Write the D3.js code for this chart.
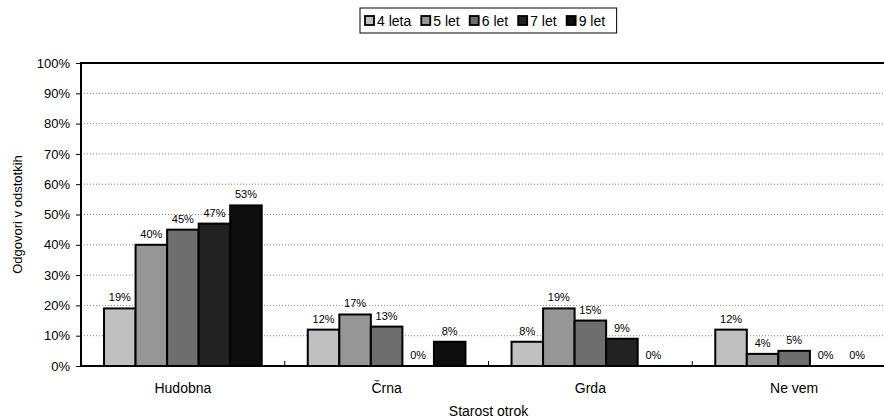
<!DOCTYPE html>
<html><head><meta charset="utf-8">
<script src="https://cdn.jsdelivr.net/npm/d3@7"></script>
<style>body{margin:0;background:#fff}text{font-family:Arial,"Liberation Sans",sans-serif}</style>
</head><body><svg id="c" width="884" height="420"></svg>
<script>
const categories = ["Hudobna", "Črna", "Grda", "Ne vem"];
const seriesNames = ["4 leta", "5 let", "6 let", "7 let", "9 let"];
const s4 = [19, 12, 8, 12];
const s5 = [40, 17, 19, 4];
const s6 = [45, 13, 15, 5];
const s7 = [47, 0, 9, 0];
const s9 = [53, 8, 0, 0];
const yTicks = [0,10,20,30,40,50,60,70,80,90,100];
const colors = ["#c0c0c0", "#969696", "#6e6e6e", "#222222", "#0e0e0e"];
const allSeries = [s4, s5, s6, s7, s9];

const svg = d3.select("#c");
const L = 81, R = 896, T = 63, B = 366;
const FF = "Arial, 'Liberation Sans', sans-serif";
const x0 = d3.scaleBand().domain(categories).range([L, R]);
const bw = x0.bandwidth();
const x1 = d3.scaleBand().domain(seriesNames).range([bw*0.113, bw*0.887]);
const y = d3.scaleLinear().domain([0, 100]).range([B, T]);

// gridlines
svg.append("g").selectAll("line").data(yTicks.filter(d=>d>0 && d<100)).join("line")
  .attr("x1", L).attr("x2", R).attr("y1", d=>y(d)).attr("y2", d=>y(d))
  .attr("stroke", "#888").attr("stroke-width", 1).attr("stroke-dasharray", "1,2");

// y axis
const ya = svg.append("g").attr("transform", `translate(${L},0)`)
  .call(d3.axisLeft(y).tickValues(yTicks).tickFormat(d=>d+"%").tickSize(5).tickPadding(6));
ya.select(".domain").remove();
ya.selectAll("line").attr("stroke", "#000");
ya.selectAll("text").attr("font-size", 13).attr("fill", "#000").style("font-family", FF);

// bars
const groups = svg.append("g").selectAll("g").data(categories).join("g")
  .attr("transform", d=>`translate(${x0(d)},0)`);
groups.each(function(cat, ci){
  const g = d3.select(this);
  const vals = allSeries.map((s, si)=>({name: seriesNames[si], v: s[ci], c: colors[si]}));
  g.selectAll("rect").data(vals.filter(d=>d.v>0)).join("rect")
    .attr("x", d=>x1(d.name)).attr("width", x1.bandwidth())
    .attr("y", d=>y(d.v)).attr("height", d=>y(0)-y(d.v))
    .attr("fill", d=>d.c).attr("stroke", "#000").attr("stroke-width", 2);
  g.selectAll("text").data(vals).join("text")
    .attr("x", d=>x1(d.name)+x1.bandwidth()/2).attr("y", d=>y(d.v)-7)
    .attr("text-anchor", "middle").attr("font-size", 11).attr("fill", "#000")
    .text(d=>d.v+"%");
});

// x axis
const xa = svg.append("g").attr("transform", `translate(0,${B})`)
  .call(d3.axisBottom(x0).tickSize(0).tickPadding(17));
xa.select(".domain").remove();
xa.selectAll("text").attr("font-size", 14).attr("fill", "#000").style("font-family", FF);
svg.append("g").selectAll("line").data(categories.slice(1)).join("line")
  .attr("x1", d=>x0(d)).attr("x2", d=>x0(d)).attr("y1", B).attr("y2", B-5)
  .attr("stroke", "#000").attr("stroke-width", 1);

// frame lines
svg.append("line").attr("x1", L).attr("x2", R).attr("y1", B).attr("y2", B).attr("stroke", "#000").attr("stroke-width", 2);
svg.append("line").attr("x1", L).attr("x2", R).attr("y1", T).attr("y2", T).attr("stroke", "#000").attr("stroke-width", 2);
svg.append("line").attr("x1", L).attr("x2", L).attr("y1", T-1).attr("y2", B+1).attr("stroke", "#000").attr("stroke-width", 2);

// titles
svg.append("text").attr("x", (L+R)/2).attr("y", 416).attr("text-anchor", "middle").attr("font-size", 14).text("Starost otrok");
svg.append("text").attr("transform", `translate(22,${(T+B)/2}) rotate(-90)`).attr("text-anchor", "middle").attr("font-size", 13).text("Odgovori v odstotkih");

// legend
const lg = svg.append("g");
let lx = 365;
const ly = 21;
seriesNames.forEach((n, i)=>{
  lg.append("rect").attr("x", lx).attr("y", ly-5).attr("width", 9).attr("height", 9)
    .attr("fill", colors[i]).attr("stroke", "#000").attr("stroke-width", 1.8);
  const t = lg.append("text").attr("x", lx+12).attr("y", ly+5).attr("font-size", 14).text(n);
  lx += 12 + t.node().getComputedTextLength() + 10;
});
lg.insert("rect", ":first-child").attr("x", 360).attr("y", 8).attr("width", lx-360+1.5).attr("height", 25)
  .attr("fill", "#fff").attr("stroke", "#000").attr("stroke-width", 1);
</script></body></html>
